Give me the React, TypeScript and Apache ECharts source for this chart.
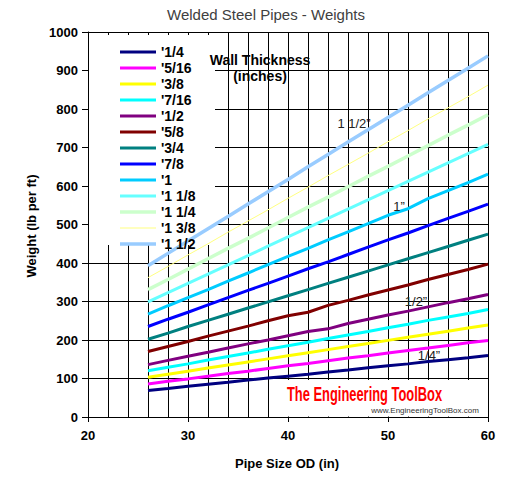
import React, { useEffect, useRef } from "react";
import * as echarts from "echarts";

// Pipe outside diameters (in)
const pipeOD = [26, 28, 30, 32, 34, 36, 38, 40, 42, 44, 46, 48, 50, 52, 54, 56, 58, 60];

// Weight (lb per ft) for each wall thickness
const w_1_4 = [69, 74, 80, 85, 90, 96, 101, 106, 111, 117, 122, 128, 133, 138, 144, 149, 154, 160];
const w_5_16 = [86, 93, 99, 106, 113, 119, 126, 133, 139, 146, 153, 159, 166, 173, 179, 186, 193, 199];
const w_3_8 = [103, 111, 119, 127, 135, 143, 151, 159, 167, 175, 183, 191, 199, 207, 215, 223, 231, 239];
const w_7_16 = [120, 129, 138, 148, 157, 166, 176, 185, 194, 204, 213, 222, 232, 241, 251, 260, 269, 279];
const w_1_2 = [136, 147, 158, 168, 179, 190, 200, 211, 222, 229, 243, 254, 265, 275, 286, 297, 307, 318];
const w_5_8 = [170, 183, 196, 210, 223, 236, 250, 263, 272, 290, 303, 317, 330, 343, 357, 370, 383, 397];
const w_3_4 = [202, 218, 235, 251, 267, 283, 299, 315, 331, 347, 363, 379, 395, 411, 427, 443, 459, 475];
const w_7_8 = [235, 254, 272, 291, 310, 329, 347, 366, 385, 403, 422, 441, 460, 478, 497, 516, 534, 553];
const w_1 = [267, 289, 310, 331, 353, 374, 396, 417, 438, 460, 481, 502, 524, 541, 567, 588, 609, 631];
const w_1_1_8 = [299, 323, 347, 371, 395, 419, 444, 468, 492, 516, 540, 564, 588, 612, 636, 660, 684, 708];
const w_1_1_4 = [331, 357, 384, 411, 438, 464, 491, 518, 545, 571, 598, 625, 651, 678, 705, 732, 758, 785];
const w_1_3_8 = [362, 391, 421, 450, 480, 509, 538, 568, 597, 627, 656, 685, 715, 744, 774, 803, 832, 862];
const w_1_1_2 = [393, 425, 457, 489, 521, 553, 585, 617, 650, 682, 714, 746, 778, 810, 842, 874, 906, 938];

const seriesNames = ["'1/4", "'5/16", "'3/8", "'7/16", "'1/2", "'5/8", "'3/4", "'7/8", "'1", "'1 1/8", "'1 1/4", "'1 3/8", "'1 1/2"];
const seriesValues = [w_1_4, w_5_16, w_3_8, w_7_16, w_1_2, w_5_8, w_3_4, w_7_8, w_1, w_1_1_8, w_1_1_4, w_1_3_8, w_1_1_2];
const seriesColors = ["#000080", "#FF00FF", "#FFFF00", "#00FFFF", "#800080", "#800000", "#008080", "#0000FF", "#00CCFF", "#66FFFF", "#CCFFCC", "#FFFF80", "#99CCFF"];
const seriesWidths = [3, 3, 3, 3, 3, 3, 3, 3, 3, 3, 3.5, 1, 3.5];

const FONT = 'Arial, "Liberation Sans", sans-serif';

// Legend swatch: a plain bar as long as the legend item, as thick as the series line
const swatch = (width: number) => `path://M0,0H36V${width}H0Z`;

export default function App() {
  const ref = useRef<HTMLDivElement>(null);

  useEffect(() => {
    if (!ref.current) return;
    const chart = echarts.init(ref.current, undefined, { renderer: "svg" });

    const series = seriesNames.map((name, i) => ({
      name,
      type: "line",
      symbol: "none",
      data: pipeOD.map((x, j) => [x, seriesValues[i][j]]),
      lineStyle: { color: seriesColors[i], width: seriesWidths[i] },
      itemStyle: { color: seriesColors[i] },
      z: 2,
    }));

    const legendData = seriesNames.map((name, i) => ({
      name,
      icon: swatch(seriesWidths[i]),
      itemStyle: { color: seriesColors[i], borderWidth: 0 },
    }));

    const label = (text: string, x: number, y: number) => ({
      type: "text", z: 5, x, y,
      style: { text, fontFamily: FONT, fontSize: 13, fill: "#222", textAlign: "center", textVerticalAlign: "middle" },
    });

    chart.setOption({
      animation: false,
      grid: { left: 88, right: 31, top: 32, bottom: 81, containLabel: false },
      xAxis: {
        type: "value",
        min: 20,
        max: 60,
        interval: 10,
        axisLine: { show: true, onZero: false, lineStyle: { color: "#000", width: 1 } },
        axisTick: { show: true, length: 5, lineStyle: { color: "#000" } },
        axisLabel: { fontFamily: FONT, fontWeight: "bold", fontSize: 13, color: "#000", margin: 12 },
        splitLine: { show: true, lineStyle: { color: "#000", width: 1 } },
        minorTick: { show: false, splitNumber: 5 },
        minorSplitLine: { show: true, lineStyle: { color: "#000", width: 1 } },
      },
      yAxis: {
        type: "value",
        min: 0,
        max: 1000,
        interval: 100,
        axisLine: { show: true, lineStyle: { color: "#000", width: 1 } },
        axisTick: { show: true, length: 6, lineStyle: { color: "#000" } },
        axisLabel: {
          fontFamily: FONT, fontWeight: "bold", fontSize: 13, color: "#000", margin: 10,
          formatter: (v: number) => String(v),
        },
        splitLine: { show: true, lineStyle: { color: "#000", width: 1 } },
      },
      legend: {
        orient: "vertical",
        left: 115,
        top: 40,
        itemWidth: 36,
        itemHeight: 3.5,
        itemGap: 2,
        symbolKeepAspect: true,
        selectedMode: false,
        data: legendData,
        textStyle: { fontFamily: FONT, fontWeight: "bold", fontSize: 14, color: "#000" },
      },
      graphic: [
        { type: "rect", z: 1, shape: { x: 89, y: 35, width: 126, height: 210 }, style: { fill: "#fff" } },
        { type: "rect", z: 1, shape: { x: 269.5, y: 380, width: 218, height: 36.5 }, style: { fill: "#fff" } },
        {
          type: "text", z: 5, x: 266, y: 14,
          style: { text: "Welded Steel Pipes - Weights", fontFamily: FONT, fontSize: 15, fill: "#404040", textAlign: "center", textVerticalAlign: "middle" },
        },
        {
          type: "text", z: 5, x: 260, y: 60,
          style: { text: "Wall Thickness", fontFamily: FONT, fontWeight: "bold", fontSize: 14, fill: "#000", textAlign: "center", textVerticalAlign: "middle" },
        },
        {
          type: "text", z: 5, x: 260, y: 76,
          style: { text: "(inches)", fontFamily: FONT, fontWeight: "bold", fontSize: 14, fill: "#000", textAlign: "center", textVerticalAlign: "middle" },
        },
        {
          type: "text", z: 5, x: 31, y: 226, rotation: Math.PI / 2,
          style: { text: "Weight (lb per ft)", fontFamily: FONT, fontWeight: "bold", fontSize: 13, fill: "#000", textAlign: "center", textVerticalAlign: "middle" },
        },
        {
          type: "text", z: 5, x: 287, y: 463,
          style: { text: "Pipe Size OD (in)", fontFamily: FONT, fontWeight: "bold", fontSize: 13, fill: "#000", textAlign: "center", textVerticalAlign: "middle" },
        },
        label("1 1/2\u201D", 354, 123),
        label("1\u201D", 399, 206),
        label("1/2\u201D", 416, 301),
        label("1/4\u201D", 429, 355),
        {
          type: "text", z: 5, x: 287, y: 394, scaleX: 0.645,
          style: { text: "The Engineering ToolBox", fontFamily: FONT, fontWeight: "bold", fontSize: 20, fill: "#FF0000", textAlign: "left", textVerticalAlign: "middle" },
        },
        {
          type: "text", z: 5, x: 425, y: 410,
          style: { text: "www.EngineeringToolBox.com", fontFamily: FONT, fontSize: 8, fill: "#333", textAlign: "center", textVerticalAlign: "middle" },
        },
      ],
      series,
    });

    return () => chart.dispose();
  }, []);

  return (
    <div
      ref={ref}
      style={{ position: "absolute", left: 0, top: 0, width: 519, height: 498, background: "#fff" }}
    />
  );
}
